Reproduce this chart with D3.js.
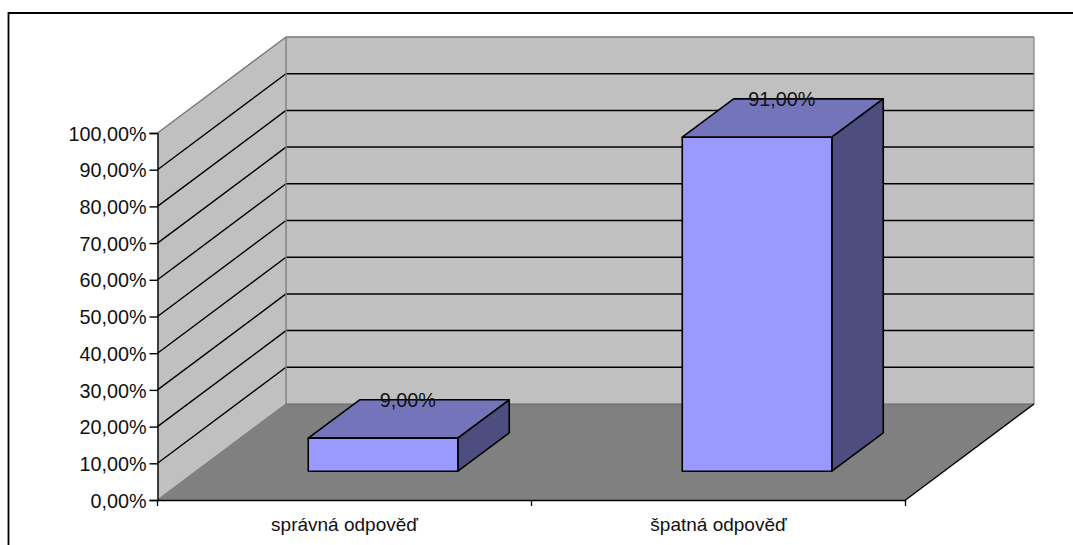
<!DOCTYPE html>
<html><head><meta charset="utf-8">
<script src="https://cdn.jsdelivr.net/npm/d3@7"></script>
<style>html,body{margin:0;padding:0;background:#fff;overflow:hidden}svg{display:block}text{font-family:"Liberation Sans",Arial,sans-serif;fill:#111}</style>
</head><body>
<script>
const categories = ["správná odpověď", "špatná odpověď"];
const values = [9, 91];
const yTicks = [0,10,20,30,40,50,60,70,80,90,100];

const W=1073,H=545;
const svg=d3.select("body").append("svg").attr("width",W).attr("height",H);
const x=d3.scaleBand().domain(categories).range([157.5,905.5]).paddingInner(0).paddingOuter(0);
const y=d3.scaleLinear().domain([0,100]).range([500,133]);
const dep=d3.scaleLinear().domain([0,1]).range([0,128.5]);
const depY=d3.scaleLinear().domain([0,1]).range([0,-96]);
const P=(u,v,z)=>[u+dep(z), y(v)+depY(z)];
const poly=(pts,fill,stroke,sw)=>svg.append("polygon").attr("points",pts.map(p=>p.join(",")).join(" ")).attr("fill",fill).attr("stroke",stroke||"none").attr("stroke-width",sw||0).attr("stroke-linejoin","round");
const line=(a,b,c,w)=>svg.append("line").attr("x1",a[0]).attr("y1",a[1]).attr("x2",b[0]).attr("y2",b[1]).attr("stroke",c).attr("stroke-width",w||1.4);

// frame
svg.append("path").attr("d",`M8.5,${H} V13 H${W}`).attr("fill","none").attr("stroke","#000").attr("stroke-width",1.8);

const x0=157.5,x1=905.5;
// walls
poly([P(x0,0,0),P(x0,0,1),P(x0,100,1),P(x0,100,0)],"#c0c0c0");
poly([P(x0,0,1),P(x1,0,1),P(x1,100,1),P(x0,100,1)],"#c0c0c0");
poly([P(x0,0,0),P(x1,0,0),P(x1,0,1),P(x0,0,1)],"#808080");
// gridlines
yTicks.filter(t=>t>0&&t<100).forEach(t=>{
  line(P(x0,t,0),P(x0,t,1),"#000",1.4);
  line(P(x0,t,1),P(x1,t,1),"#000",1.5);
});
// wall edges
line(P(x0,100,0),P(x0,100,1),"#777",1.4);
line(P(x0,100,1),P(x1,100,1),"#777",1.6);
line(P(x0,0,1),P(x0,100,1),"#808080",1.4);
line(P(x1,0,1),P(x1,100,1),"#808080",1.2);
line(P(x0,0,0),P(x0,0,1),"#808080",1.4);
line(P(x0,0,1),P(x1,0,1),"#666",1);
line(P(x1,0,0),P(x1,0,1),"#000",1.4);

// axes
const fmt=d3.formatLocale({decimal:",",thousands:"",grouping:[3],currency:["","%"]}).format(".2f");
const ay=svg.append("g").attr("transform",`translate(${x0},0)`).call(d3.axisLeft(y).tickValues(yTicks).tickSize(8).tickPadding(3).tickFormat(d=>fmt(d)+"%"));
ay.selectAll("text").attr("font-size",19.8).attr("fill","#111").style("font-family",'"Liberation Sans"').attr("dy","0.36em");
ay.selectAll("line,path").attr("stroke","#000").attr("stroke-width",1.4);
const ax=svg.append("g").attr("transform",`translate(0,${y(0)})`).call(d3.axisBottom(x).tickSize(0).tickPadding(18));
ax.selectAll("text").attr("font-size",19).attr("fill","#111").style("font-family",'"Liberation Sans"');
ax.select("path").attr("stroke","#000").attr("stroke-width",1.6);
const edges=[x0,x(categories[1]),x1];
svg.selectAll(".xt").data(edges).join("line").attr("x1",d=>d).attr("x2",d=>d).attr("y1",y(0)).attr("y2",y(0)+6).attr("stroke","#000").attr("stroke-width",1.3);

// bars
const bw=x.bandwidth()/2.5, z0=0.3, z1=0.7;
categories.forEach((c,i)=>{
  const u0=x(c)+x.bandwidth()/2-bw/2,u1=u0+bw,v=values[i];
  poly([P(u0,v,z0),P(u1,v,z0),P(u1,v,z1),P(u0,v,z1)],"#7474bb","#000",1.6);
  poly([P(u1,0,z0),P(u1,0,z1),P(u1,v,z1),P(u1,v,z0)],"#4d4d7f","#000",1.6);
  poly([P(u0,0,z0),P(u1,0,z0),P(u1,v,z0),P(u0,v,z0)],"#9999ff","#000",1.6);
});
categories.forEach((c,i)=>{
  const u0=x(c)+x.bandwidth()/2,v=values[i],p=P(u0,v,0.5);
  svg.append("text").attr("x",p[0]-1).attr("y",p[1]-12).attr("text-anchor","middle").attr("font-size",19.8).attr("fill","#222").text(fmt(v)+"%");
});
</script>
</body></html>
